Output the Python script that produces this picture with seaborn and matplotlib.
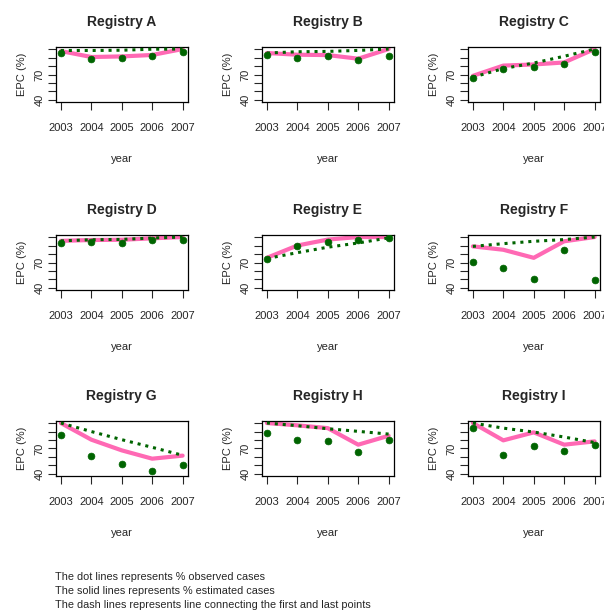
import matplotlib
matplotlib.use("Agg")
import matplotlib.pyplot as plt
import seaborn as sns
import numpy as np
import pandas as pd

sns.set_style("ticks")
plt.rcParams["font.family"] = ["Liberation Sans", "DejaVu Sans"]

# ---------------- data ----------------
years = [2003, 2004, 2005, 2006, 2007]
registries = ["A", "B", "C", "D", "E", "F", "G", "H", "I"]

points = {
    "A": [95.3, 88.2, 89.4, 91.3, 96.0],
    "B": [93.3, 89.4, 91.3, 86.6, 91.3],
    "C": [65.5, 76.5, 79.0, 82.6, 96.8],
    "D": [93.0, 94.0, 93.5, 97.0, 96.5],
    "E": [74.0, 90.0, 94.0, 97.0, 99.0],
    "F": [70.6, 63.0, 51.0, 85.0, 49.8],
    "G": [85.5, 61.0, 51.8, 44.0, 50.2],
    "H": [88.0, 80.4, 79.0, 65.5, 80.4],
    "I": [94.0, 62.7, 72.5, 66.7, 74.5],
}
solid = {
    "A": [97.6, 90.6, 91.3, 93.0, 100.0],
    "B": [95.3, 93.3, 92.9, 88.6, 100.0],
    "C": [68.4, 80.5, 81.8, 84.2, 100.0],
    "D": [95.5, 96.5, 96.8, 98.5, 100.0],
    "E": [75.5, 90.0, 97.0, 100.0, 100.0],
    "F": [89.0, 85.0, 75.5, 95.0, 100.0],
    "G": [100.0, 80.4, 67.8, 58.0, 61.6],
    "H": [100.0, 97.3, 94.0, 74.5, 85.0],
    "I": [100.0, 79.6, 89.0, 74.5, 78.4],
}
dotted = {
    "A": [98.3, 98.3, 98.6, 99.8, 100.0],
    "B": [95.3, 96.8, 97.2, 98.4, 100.0],
    "C": [66.8, 77.0, 83.5, 91.5, 100.0],
    "D": [95.5, 96.8, 97.2, 98.8, 100.0],
    "E": [74.7, 81.6, 88.0, 93.0, 99.0],
    "F": [89.0, 92.2, 95.0, 97.0, 100.0],
    "G": [100.0, 90.0, 80.4, 71.4, 62.0],
    "H": [100.0, 96.9, 93.3, 90.2, 87.0],
    "I": [100.0, 94.0, 89.4, 83.5, 77.0],
}
y_ticks = [40, 50, 60, 70, 80, 90, 100]
y_labels = ["40", "", "", "70", "", "", ""]
notes = [
    "The dot lines represents % observed cases",
    "The solid lines represents % estimated cases",
    "The dash lines represents line connecting the first and last points",
]

rows = []
for r in registries:
    for i, yr in enumerate(years):
        rows.append({"registry": r, "year": yr, "points": points[r][i],
                     "solid": solid[r][i], "dotted": dotted[r][i]})
df = pd.DataFrame(rows)

# ---------------- layout (pixel boxes -> figure fractions) ----------------
W, H = 604, 610
fig = plt.figure(figsize=(W / 100, H / 100), dpi=100)

col_left = [56, 262, 468]
row_top = [47, 235, 421]
box_w, box_h = 131.5, 55

PINK = "#ff69b4"
GREEN = "#006400"

for k, r in enumerate(registries):
    row, col = divmod(k, 3)
    ax = fig.add_axes([col_left[col] / W, 1 - (row_top[row] + box_h) / H,
                       box_w / W, box_h / H])
    sub = df[df["registry"] == r]

    sns.lineplot(data=sub, x="year", y="solid", ax=ax, color=PINK,
                 lw=3, solid_capstyle="round", zorder=2)
    sns.lineplot(data=sub, x="year", y="dotted", ax=ax, color=GREEN,
                 lw=2.2, linestyle=(0, (1, 1.6)), zorder=3)
    sns.scatterplot(data=sub, x="year", y="points", ax=ax, color=GREEN,
                    s=24, edgecolor=GREEN, linewidth=0.5, zorder=4)

    ax.set_xlim(2002.84, 2007.16)
    ax.set_ylim(37.6, 102.4)
    ax.set_xticks(years)
    ax.set_xticklabels([str(y) for y in years], fontsize=8)
    ax.set_yticks(y_ticks)
    ax.set_yticklabels(y_labels, fontsize=8, rotation=90, va="center")
    ax.tick_params(axis="x", length=6, width=0.8, pad=9)
    ax.tick_params(axis="y", length=6, width=0.8, pad=2)
    for sp in ax.spines.values():
        sp.set_linewidth(0.9)
        sp.set_color("black")

    ax.set_xlabel("year", fontsize=8, labelpad=15)
    ax.set_ylabel("EPC (%)", fontsize=8, labelpad=6)
    ax.set_title(f"Registry {r}", fontsize=10, fontweight="bold", pad=15)

for i, line in enumerate(notes):
    fig.text(55 / W, 1 - (577 + 14 * i) / H, line, fontsize=7.8,
             va="center", ha="left")

fig.savefig("out.png", dpi=100)
